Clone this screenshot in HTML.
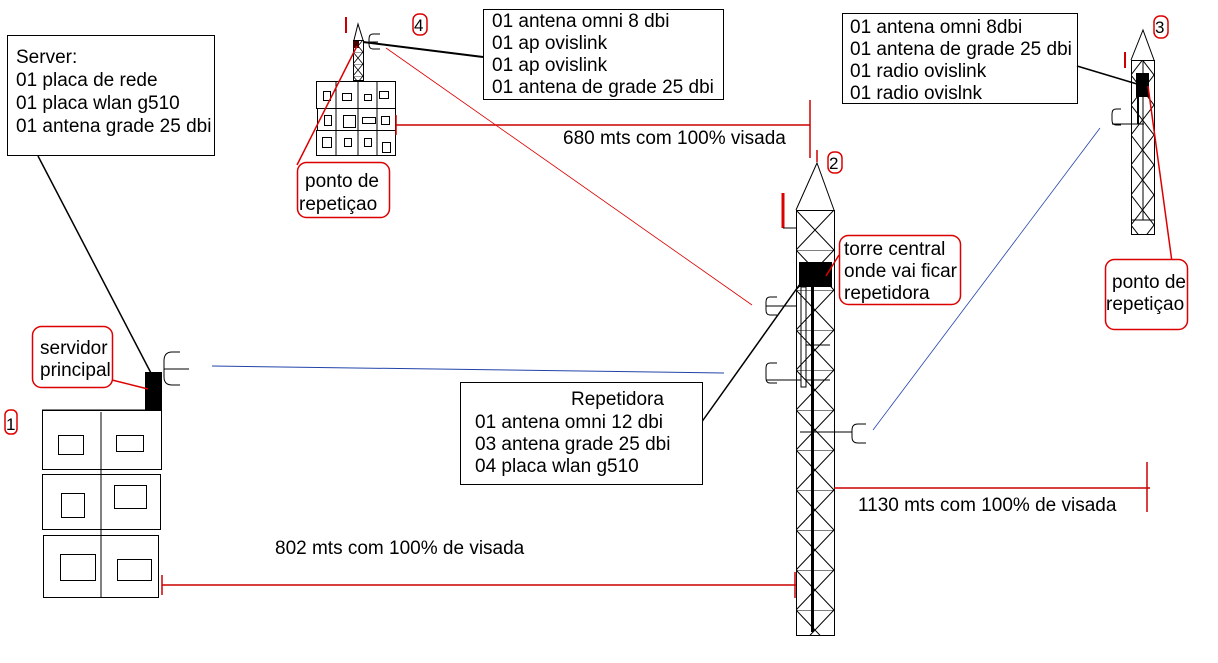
<!DOCTYPE html>
<html><head><meta charset="utf-8"><style>
html,body{margin:0;padding:0;background:#fff;}
svg{display:block;font-family:"Liberation Sans",Arial,sans-serif;}
</style></head><body>
<svg width="1218" height="663" viewBox="0 0 1218 663" xmlns="http://www.w3.org/2000/svg" font-size="19">
<defs>
<pattern id="lat2" x="796" y="210" width="38" height="40" patternUnits="userSpaceOnUse">
<path d="M0 0L38 40M38 0L0 40M0 0H38" stroke="#000" stroke-width="1" fill="none"/>
</pattern>
<pattern id="lat3" x="1131" y="60" width="23" height="30" patternUnits="userSpaceOnUse">
<path d="M11.5 0L23 15L11.5 30L0 15Z" stroke="#000" stroke-width="1" fill="none"/>
</pattern>
<pattern id="lat4" x="353" y="40" width="10" height="12" patternUnits="userSpaceOnUse">
<path d="M0 0L10 12M10 0L0 12M0 0H10" stroke="#000" stroke-width="0.8" fill="none"/>
</pattern>
</defs>
<rect width="1218" height="663" fill="#fff"/>

<!-- Server box -->
<rect x="7.5" y="35.5" width="207" height="120" fill="#fff" stroke="#000"/>
<text x="16" y="63">Server:</text>
<text x="16" y="86">01 placa de rede</text>
<text x="16" y="109">01 placa wlan g510</text>
<text x="16" y="132">01 antena grade 25 dbi</text>
<line x1="38" y1="156" x2="152" y2="375" stroke="#000" stroke-width="1.5"/>

<!-- building 1 -->
<line x1="42" y1="410" x2="162" y2="410" stroke="#000"/>
<rect x="42.5" y="410.5" width="119" height="59" fill="none" stroke="#000"/>
<rect x="42.5" y="474.5" width="118" height="55" fill="none" stroke="#000"/>
<rect x="43.5" y="535.5" width="115" height="62" fill="none" stroke="#000"/>
<line x1="101" y1="412" x2="101" y2="597" stroke="#000"/>
<rect x="58.5" y="435.5" width="25" height="19" fill="none" stroke="#000"/>
<rect x="116.5" y="435.5" width="27" height="16" fill="none" stroke="#000"/>
<rect x="61.5" y="493.5" width="23" height="24" fill="none" stroke="#000"/>
<rect x="114.5" y="485.5" width="32" height="23" fill="none" stroke="#000"/>
<rect x="60.5" y="554.5" width="35" height="26" fill="none" stroke="#000"/>
<rect x="117.5" y="559.5" width="34" height="21" fill="none" stroke="#000"/>
<rect x="145" y="372" width="17" height="38" fill="#000"/>
<path d="M180 352H172Q164 352 164 361V377Q164 385 172 385H180M164 369H189" fill="none" stroke="#000"/>
<rect x="32.5" y="326.5" width="80" height="61" rx="9" fill="#fff" stroke="#d00" stroke-width="1.5"/>
<text x="40" y="354">servidor</text>
<text x="40" y="376">principal</text>
<line x1="112" y1="380" x2="148" y2="389" stroke="#d00" stroke-width="1.5"/>
<rect x="5" y="410" width="12" height="24" rx="5" fill="none" stroke="#d00" stroke-width="1.5"/>
<text x="6" y="430" font-size="17">1</text>

<!-- blue link 1-2 -->
<line x1="212" y1="366" x2="724" y2="373" stroke="#2244aa" stroke-width="1"/>

<!-- bottom distance -->
<line x1="162" y1="585" x2="796" y2="585" stroke="#c00" stroke-width="1.5"/>
<line x1="162" y1="575" x2="162" y2="595" stroke="#c00" stroke-width="1.5"/>
<line x1="795" y1="572" x2="795" y2="598" stroke="#c00" stroke-width="1.5"/>
<text x="275" y="554">802 mts com 100% de visada</text>

<!-- building 4 -->
<rect x="316.5" y="81.5" width="79" height="27" fill="#fff" stroke="#000"/>
<rect x="317.5" y="108.5" width="78" height="22" fill="#fff" stroke="#000"/>
<rect x="316.5" y="130.5" width="79" height="25" fill="#fff" stroke="#000"/>
<line x1="336" y1="81" x2="336" y2="156" stroke="#000"/>
<line x1="358" y1="81" x2="358" y2="156" stroke="#000"/>
<line x1="377" y1="81" x2="377" y2="156" stroke="#000"/>
<g fill="none" stroke="#000">
<rect x="323.5" y="91.5" width="7" height="9"/><rect x="342.5" y="93.5" width="9" height="7"/><rect x="364.5" y="94.5" width="7" height="6"/><rect x="379.5" y="91.5" width="9" height="7"/>
<rect x="324.5" y="115.5" width="7" height="10"/><rect x="343.5" y="115.5" width="12" height="12"/><rect x="362.5" y="117.5" width="13" height="6"/><rect x="381.5" y="116.5" width="8" height="8"/>
<rect x="322.5" y="137.5" width="9" height="10"/><rect x="344.5" y="138.5" width="7" height="8"/><rect x="364.5" y="138.5" width="7" height="8"/><rect x="382.5" y="142.5" width="8" height="10"/>
</g>
<rect x="353.5" y="40.5" width="10" height="40" fill="url(#lat4)" stroke="#000"/>
<path d="M354 40L358 24L363 40" fill="none" stroke="#000"/>
<rect x="353" y="41" width="6" height="7" fill="#400"/>
<line x1="346" y1="17" x2="346" y2="33" stroke="#c00" stroke-width="2"/>
<path d="M380 34H373Q369 34 369 39V44Q369 49 373 49H380M369 42H378" fill="none" stroke="#000"/>
<line x1="363" y1="42" x2="483" y2="57" stroke="#000" stroke-width="2"/>
<rect x="413" y="14" width="14" height="21" rx="6" fill="none" stroke="#d00" stroke-width="1.5"/>
<text x="414" y="31" font-size="17">4</text>
<rect x="483.5" y="9.5" width="240" height="90" fill="#fff" stroke="#000"/>
<text x="492" y="27">01 antena omni 8 dbi</text>
<text x="492" y="49">01 ap ovislink</text>
<text x="492" y="71">01 ap ovislink</text>
<text x="492" y="93">01 antena de grade 25 dbi</text>
<line x1="357" y1="46" x2="297" y2="165" stroke="#d00" stroke-width="1.5"/>
<rect x="297.5" y="162.5" width="92" height="55" rx="9" fill="#fff" stroke="#d00" stroke-width="1.5"/>
<text x="305" y="187">ponto de</text>
<text x="299" y="210">repetiçao</text>
<!-- 680 line -->
<line x1="396" y1="125" x2="810" y2="125" stroke="#c00" stroke-width="1.5"/>
<line x1="396" y1="115" x2="396" y2="135" stroke="#c00" stroke-width="1.5"/>
<line x1="810" y1="100" x2="810" y2="158" stroke="#c00" stroke-width="1.5"/>
<text x="563" y="144">680 mts com 100% visada</text>
<line x1="386" y1="48" x2="752" y2="305" stroke="#d00" stroke-width="0.8"/>

<!-- tower 2 -->
<rect x="796.5" y="210.5" width="38" height="425" fill="url(#lat2)" stroke="#000"/>
<path d="M796 210L817 163L834 210" fill="none" stroke="#000"/>
<line x1="817" y1="150" x2="817" y2="162" stroke="#c00" stroke-width="1.5"/>
<line x1="783" y1="193" x2="783" y2="228" stroke="#d00" stroke-width="3"/>
<line x1="783" y1="228" x2="797" y2="228" stroke="#000"/>
<rect x="799" y="262" width="33" height="25" fill="#000"/>
<rect x="801" y="287" width="5" height="100" fill="none" stroke="#000"/>
<rect x="811" y="287" width="3" height="345" fill="#000"/>
<line x1="806" y1="345" x2="830" y2="345" stroke="#000"/>
<line x1="806" y1="380" x2="830" y2="380" stroke="#000"/>
<path d="M777 297H770Q766 297 766 302V310Q766 315 770 315H777M766 306H796" fill="none" stroke="#000"/>
<path d="M777 363H770Q766 363 766 368V378Q766 383 770 383H777M766 380H801" fill="none" stroke="#000"/>
<path d="M866 424H858Q852 424 852 430V437Q852 443 858 443H866M852 432H800" fill="none" stroke="#000"/>
<rect x="828" y="152" width="14" height="21" rx="6" fill="none" stroke="#d00" stroke-width="1.5"/>
<text x="829" y="169" font-size="17">2</text>
<rect x="839.5" y="235.5" width="121" height="69" rx="9" fill="#fff" stroke="#d00" stroke-width="1.5"/>
<text x="844" y="255">torre central</text>
<text x="844" y="277">onde vai ficar</text>
<text x="844" y="299">repetidora</text>
<line x1="839" y1="255" x2="826" y2="276" stroke="#d00" stroke-width="1.5"/>
<line x1="800" y1="284" x2="701" y2="423" stroke="#000" stroke-width="1.5"/>
<rect x="460.5" y="382.5" width="242" height="102" fill="#fff" stroke="#000"/>
<text x="571" y="405">Repetidora</text>
<text x="475" y="428">01 antena omni 12 dbi</text>
<text x="475" y="450">03 antena grade 25 dbi</text>
<text x="475" y="472">04 placa wlan g510</text>
<!-- 1130 line -->
<line x1="834" y1="488" x2="1150" y2="488" stroke="#c00" stroke-width="1.5"/>
<line x1="1147" y1="462" x2="1147" y2="512" stroke="#c00" stroke-width="1.5"/>
<text x="858" y="511">1130 mts com 100% de visada</text>
<line x1="873" y1="430" x2="1100" y2="128" stroke="#2244aa" stroke-width="0.8"/>

<!-- tower 3 -->
<rect x="1131.5" y="60.5" width="23" height="174" fill="url(#lat3)" stroke="#000"/>
<line x1="1131" y1="220" x2="1154" y2="220" stroke="#000"/>
<line x1="1143" y1="60" x2="1143" y2="220" stroke="#000"/>
<path d="M1131 60L1143 30L1154 60" fill="none" stroke="#000"/>
<line x1="1125" y1="52" x2="1125" y2="68" stroke="#c00" stroke-width="2"/>
<rect x="1136" y="73" width="13" height="24" fill="#000"/>
<line x1="1138" y1="97" x2="1138" y2="124" stroke="#000" stroke-width="2"/>
<path d="M1121 109H1116Q1112 109 1112 114V120Q1112 125 1116 125H1121M1112 124H1144" fill="none" stroke="#000"/>
<rect x="1154" y="16" width="14" height="22" rx="6" fill="none" stroke="#d00" stroke-width="1.5"/>
<text x="1155" y="33" font-size="17">3</text>
<rect x="842.5" y="13.5" width="235" height="90" fill="#fff" stroke="#000"/>
<text x="850" y="33">01 antena omni 8dbi</text>
<text x="850" y="55">01 antena de grade 25 dbi</text>
<text x="850" y="77">01 radio ovislink</text>
<text x="850" y="99">01 radio ovislnk</text>
<line x1="1077" y1="66" x2="1137" y2="84" stroke="#000" stroke-width="1.5"/>
<line x1="1148" y1="86" x2="1172" y2="262" stroke="#d00" stroke-width="1.5"/>
<rect x="1105.5" y="259.5" width="82" height="70" rx="9" fill="#fff" stroke="#d00" stroke-width="1.5"/>
<text x="1112" y="288">ponto de</text>
<text x="1106" y="310">repetiçao</text>
</svg>
</body></html>
